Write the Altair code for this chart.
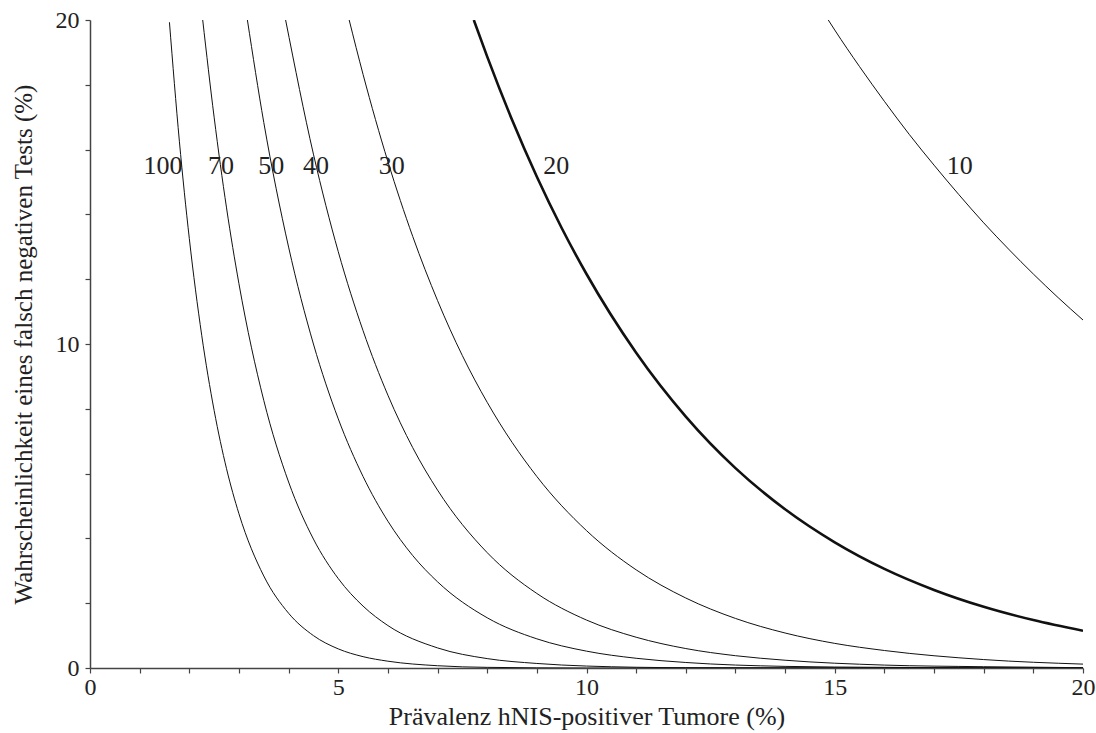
import altair as alt
import pandas as pd

# Prevalence (%) and false-negative probability (%), per sample size
n100_x = [1.6, 1.8, 2.0, 2.25, 2.5, 2.75, 3.0, 3.5, 4.0, 4.5, 5.0, 5.5, 6.0, 7.0, 8.0, 10.0, 20.0]
n100_y = [19.93, 16.26, 13.26, 10.27, 7.95, 6.15, 4.76, 2.84, 1.69, 1.00, 0.59, 0.35, 0.21, 0.07, 0.02, 0.0, 0.0]

n70_x = [2.27, 2.5, 2.75, 3.0, 3.5, 4.0, 4.5, 5.0, 5.5, 6.0, 7.0, 8.0, 9.0, 10.0, 12.0, 20.0]
n70_y = [20.0, 17.0, 14.2, 11.86, 8.26, 5.74, 3.98, 2.76, 1.91, 1.31, 0.62, 0.29, 0.14, 0.06, 0.01, 0.0]

n50_x = [3.17, 3.5, 4.0, 4.5, 5.0, 5.5, 6.0, 6.5, 7.0, 8.0, 9.0, 10.0, 11.0, 12.0, 14.0, 16.0, 20.0]
n50_y = [20.0, 16.84, 12.99, 10.0, 7.69, 5.91, 4.53, 3.47, 2.66, 1.55, 0.90, 0.52, 0.30, 0.17, 0.05, 0.02, 0.0]

n40_x = [3.94, 4.5, 5.0, 5.5, 6.0, 6.5, 7.0, 8.0, 9.0, 10.0, 11.0, 12.0, 13.0, 14.0, 16.0, 18.0, 20.0]
n40_y = [20.0, 15.86, 12.85, 10.41, 8.42, 6.80, 5.49, 3.56, 2.30, 1.48, 0.95, 0.60, 0.38, 0.24, 0.09, 0.04, 0.01]

n30_x = [5.22, 5.5, 6.0, 6.5, 7.0, 7.5, 8.0, 9.0, 10.0, 11.0, 12.0, 13.0, 14.0, 15.0, 16.0, 18.0, 20.0]
n30_y = [20.0, 18.32, 15.63, 13.32, 11.34, 9.64, 8.20, 5.91, 4.24, 3.03, 2.16, 1.53, 1.08, 0.76, 0.54, 0.26, 0.12]

n20_x = [7.73, 8.0, 8.5, 9.0, 9.5, 10.0, 11.0, 12.0, 13.0, 14.0, 15.0, 16.0, 17.0, 18.0, 19.0, 20.0]
n20_y = [20.0, 18.87, 16.92, 15.16, 13.58, 12.16, 9.73, 7.76, 6.17, 4.90, 3.88, 3.06, 2.41, 1.89, 1.48, 1.15]

n10_x = [14.87, 15.0, 15.5, 16.0, 16.5, 17.0, 17.5, 18.0, 18.5, 19.0, 19.5, 20.0]
n10_y = [20.0, 19.69, 18.56, 17.49, 16.47, 15.52, 14.61, 13.74, 12.93, 12.16, 11.43, 10.74]

# Curve labels
label_text = ["100", "70", "50", "40", "30", "20", "10"]
label_x = [1.47, 2.64, 3.65, 4.55, 6.08, 9.39, 17.52]
label_y = [15.5, 15.5, 15.5, 15.5, 15.5, 15.5, 15.5]

series = [
    ("100", n100_x, n100_y),
    ("70", n70_x, n70_y),
    ("50", n50_x, n50_y),
    ("40", n40_x, n40_y),
    ("30", n30_x, n30_y),
    ("20", n20_x, n20_y),
    ("10", n10_x, n10_y),
]
rows = []
for name, xs, ys in series:
    for i, (xv, yv) in enumerate(zip(xs, ys)):
        rows.append({"n": name, "x": xv, "y": yv, "i": i})
df = pd.DataFrame(rows)
lab = pd.DataFrame({"t": label_text, "x": label_x, "y": label_y})

FONT = "Liberation Serif"
AX = "#444444"

xscale = alt.Scale(domain=[0, 20], nice=False, zero=False)
yscale = alt.Scale(domain=[0, 20], nice=False, zero=False)

xaxis = alt.Axis(
    title="Prävalenz hNIS-positiver Tumore (%)",
    values=list(range(0, 21)),
    labelExpr="datum.value % 5 == 0 ? datum.label : ''",
    grid=False, tickSize=5, tickColor=AX, domainColor=AX, domainWidth=1.5, tickWidth=1.2,
    labelFont=FONT, labelFontSize=24, labelColor="#222222", labelPadding=2,
    titleFont=FONT, titleFontSize=26, titleFontWeight="normal", titleColor="#222222", titlePadding=4,
    labelFlush=False, labelOverlap=False,
)
yaxis = alt.Axis(
    title="Wahrscheinlichkeit eines falsch negativen Tests (%)",
    values=list(range(0, 21)),
    labelExpr="datum.value % 10 == 0 ? datum.label : ''",
    grid=False, tickSize=5, tickColor=AX, domainColor=AX, domainWidth=1.5, tickWidth=1.2,
    labelFont=FONT, labelFontSize=24, labelColor="#222222", labelPadding=6,
    titleFont=FONT, titleFontSize=25, titleFontWeight="normal", titleColor="#222222", titlePadding=19,
    labelFlush=False, labelOverlap=False,
)

thin = alt.Chart(df[df["n"] != "20"]).mark_line(
    color="#111111", strokeWidth=1, interpolate="monotone", clip=True
).encode(
    x=alt.X("x:Q", scale=xscale, axis=xaxis),
    y=alt.Y("y:Q", scale=yscale, axis=yaxis),
    detail="n:N",
    order="i:Q",
)
bold = alt.Chart(df[df["n"] == "20"]).mark_line(
    color="#111111", strokeWidth=2.6, interpolate="monotone", clip=True
).encode(
    x=alt.X("x:Q", scale=xscale),
    y=alt.Y("y:Q", scale=yscale),
    order="i:Q",
)
texts = alt.Chart(lab).mark_text(
    font=FONT, fontSize=26, color="#222222", align="center", baseline="middle"
).encode(
    x=alt.X("x:Q", scale=xscale),
    y=alt.Y("y:Q", scale=yscale),
    text="t:N",
)

chart = alt.layer(thin, bold, texts).properties(
    width=993, height=648,
    autosize=alt.AutoSizeParams(type="none"),
    padding={"left": 90, "top": 20, "right": 13, "bottom": 65},
    background="white",
).configure_view(stroke=None)

chart.save("out.html", embed_options={"renderer": "svg", "actions": False})
